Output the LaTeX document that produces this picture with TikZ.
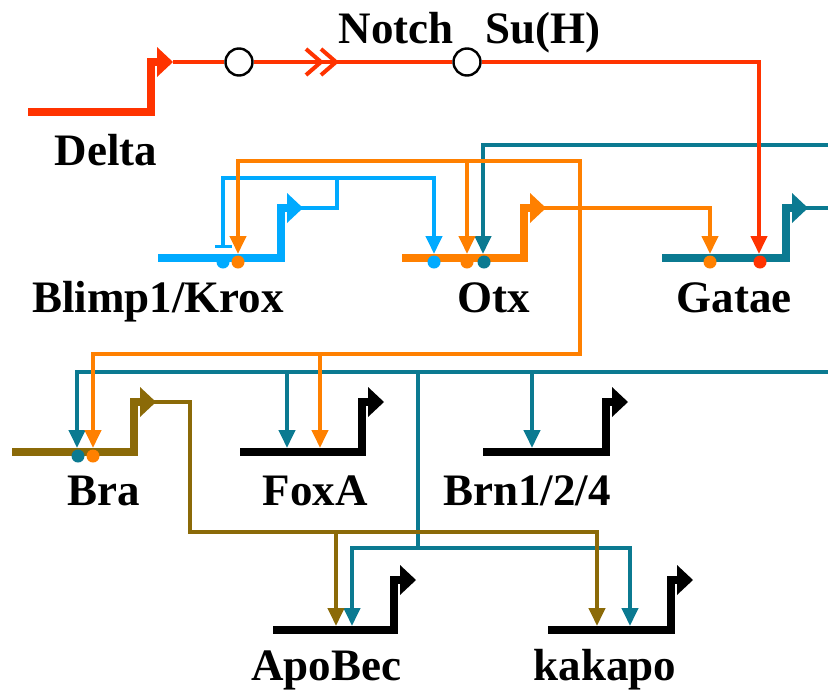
\documentclass[tikz,border=0pt]{standalone}
\usepackage{fontspec}
\setmainfont{Liberation Serif}
\usetikzlibrary{arrows.meta}
\definecolor{cred}{HTML}{FF3300}
\definecolor{corange}{HTML}{FF8000}
\definecolor{cblue}{HTML}{00AAFF}
\definecolor{cteal}{HTML}{0B7A91}
\definecolor{colive}{HTML}{8B6A08}
\newcommand\drawgene[5]{%
  \draw[gene,#1] (#2,#4) -- (#3-6,#4) -- (#3-6,#4-50) -- (#3+1,#4-50);
  \fill[#1] (#3,#4-65) -- (#3+16,#4-50) -- (#3,#4-35) -- cycle;
  \coordinate (#5P) at (#3+16,#4-50);
}
\begin{document}
\begin{tikzpicture}[x=1pt,y=-1pt,
  lbl/.style={font=\fontsize{45}{45}\selectfont\bfseries, anchor=base, inner sep=0pt},
  wire/.style={line width=4pt, line cap=rect, line join=miter},
  reg/.style={wire, -{Triangle[length=18pt,width=16pt]}},
  rep/.style={wire, -{Bar[width=17pt,line width=3.5pt]}},
  gene/.style={line width=7.5pt, line join=miter},
  dot/.style={circle, fill, inner sep=0pt, minimum size=13pt},
  prot/.style={circle, draw=black, line width=2.4pt, fill=white, minimum size=27pt, inner sep=0pt}
]
\fill[white] (0,0) rectangle (828,691);
\useasboundingbox (0,0) rectangle (828,691);

% genes
\drawgene{cred}{28}{157}{112}{delta}
\drawgene{cblue}{158}{287}{258}{blimp}
\drawgene{corange}{402}{530}{258}{otx}
\drawgene{cteal}{662}{792}{258}{gatae}
\drawgene{colive}{12}{140}{452}{bra}
\drawgene{black}{240}{368}{452}{foxa}
\drawgene{black}{483}{612}{452}{brn}
\drawgene{black}{273}{400}{630}{apo}
\drawgene{black}{548}{677}{630}{kak}

% inputs
\coordinate (blimpIn1) at (223,248);
\coordinate (blimpIn2) at (238,254);
\coordinate (otxIn1) at (434,254);
\coordinate (otxIn2) at (467,254);
\coordinate (otxIn3) at (483,254);
\coordinate (gataeIn1) at (710,254);
\coordinate (gataeIn2) at (759,254);
\coordinate (braIn1) at (77,448);
\coordinate (braIn2) at (93,448);
\coordinate (foxaIn1) at (287,448);
\coordinate (foxaIn2) at (320,448);
\coordinate (brnIn1) at (532,448);
\coordinate (apoIn1) at (336,626);
\coordinate (apoIn2) at (352,626);
\coordinate (kakIn1) at (597,626);
\coordinate (kakIn2) at (630,626);

% junctions
\coordinate (bJ) at (337,178);
\coordinate (oJ) at (580,208);
\coordinate (oTop) at (580,161);
\coordinate (oMid) at (467,161);
\coordinate (oBot) at (580,354);
\coordinate (oF) at (320,354);
\coordinate (tE1) at (830,145);
\coordinate (tE2) at (830,372);
\coordinate (tE3) at (830,208);
\coordinate (tF) at (287,372);
\coordinate (tB) at (532,372);
\coordinate (tD) at (418,372);
\coordinate (tJ) at (418,548);
\coordinate (lJ) at (190,532);

% teal
\draw[wire,cteal] (gataeP) -- (tE3);
\draw[reg,cteal] (tE1) -| (otxIn3);
\draw[reg,cteal] (tE2) -| (braIn1);
\draw[reg,cteal] (tF) -- (foxaIn1);
\draw[reg,cteal] (tB) -- (brnIn1);
\draw[wire,cteal] (tD) -- (tJ);
\draw[reg,cteal] (tJ) -| (apoIn2);
\draw[reg,cteal] (tJ) -| (kakIn2);

% light blue
\draw[wire,cblue] (blimpP) -| (bJ);
\draw[rep,cblue] (bJ) -| (blimpIn1);
\draw[reg,cblue] (bJ) -| (otxIn1);

% orange
\draw[reg,corange] (otxP) -| (gataeIn1);
\draw[wire,corange] (oTop) -- (oBot);
\draw[reg,corange] (oTop) -| (blimpIn2);
\draw[reg,corange] (oMid) -- (otxIn2);
\draw[reg,corange] (oBot) -| (braIn2);
\draw[reg,corange] (oF) -- (foxaIn2);

% olive
\draw[wire,colive] (braP) -| (lJ);
\draw[reg,colive] (lJ) -| (apoIn1);
\draw[reg,colive] (lJ) -| (kakIn1);

% red
\node[prot] (notch) at (239,62) {};
\node[prot] (suh) at (467,62) {};
\draw[wire,cred,line cap=butt] (deltaP) -- (notch);
\draw[wire,cred,line cap=butt] (notch) -- (suh);
\draw[reg,cred,line cap=butt] (suh) -| (gataeIn2);
\draw[cred,line width=4pt,line join=miter] (306,49) -- (321,62) -- (306,75);
\draw[cred,line width=4pt,line join=miter] (321,49) -- (336,62) -- (321,75);

% binding-site dots
\node[dot,cblue] (d1) at (223,262) {};
\node[dot,corange] (d2) at (238,262) {};
\node[dot,cblue] (d3) at (434,262) {};
\node[dot,corange] (d4) at (467,262) {};
\node[dot,cteal] (d5) at (484,262) {};
\node[dot,corange] (d6) at (710,262) {};
\node[dot,cred] (d7) at (760,262) {};
\node[dot,cteal] (d8) at (78,456) {};
\node[dot,corange] (d9) at (93,456) {};

% labels
\node[lbl] (lDelta) at (106,165) {Delta};
\node[lbl] (lNotch) at (396,43) {Notch};
\node[lbl] (lSuH) at (543,43) {Su(H)};
\node[lbl] (lBlimp) at (158,312) {Blimp1/Krox};
\node[lbl] (lOtx) at (494,312) {Otx};
\node[lbl] (lGatae) at (734,312) {Gatae};
\node[lbl] (lBra) at (104,505) {Bra};
\node[lbl] (lFoxA) at (315,505) {FoxA};
\node[lbl] (lBrn) at (527,505) {Brn1/2/4};
\node[lbl] (lApo) at (326,680) {ApoBec};
\node[lbl] (lKak) at (605,680) {kakapo};
\end{tikzpicture}
\end{document}
